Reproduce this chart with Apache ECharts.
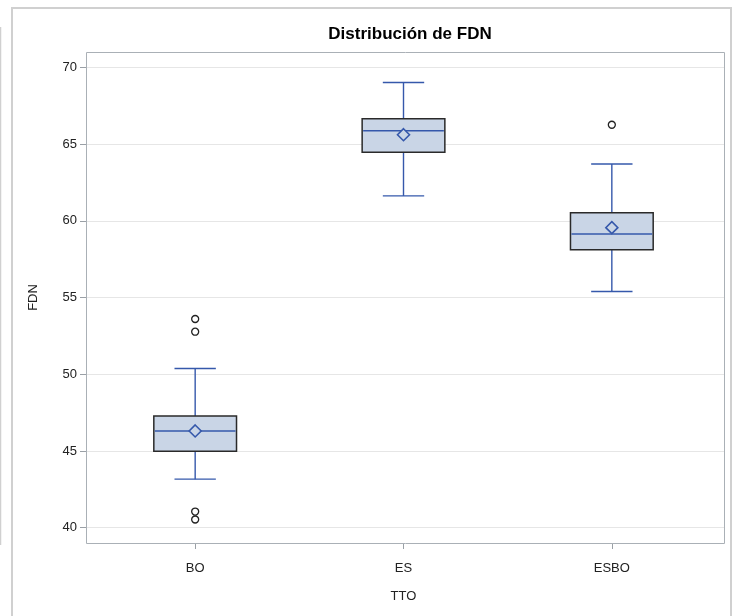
<!DOCTYPE html>
<html>
<head>
<meta charset="utf-8">
<script src="https://cdn.jsdelivr.net/npm/echarts@6/dist/echarts.min.js"></script>
<style>
  html, body { margin: 0; padding: 0; background: #fff; }
  #chart { width: 738px; height: 616px; }
</style>
</head>
<body>
<div id="chart"></div>
<script>
// Treatment groups and five-number summaries of FDN per group
const categories = ['BO', 'ES', 'ESBO'];
const lowWhisker = [43.16, 61.62, 55.39];
const q1 = [44.98, 64.46, 58.12];
const median = [46.30, 65.87, 59.14];
const q3 = [47.27, 66.65, 60.52];
const highWhisker = [50.37, 69.01, 63.70];
const means = [46.30, 65.61, 59.55];
// Outlying observations: [group, value]
const outliers = [['BO', 53.60], ['BO', 52.77], ['BO', 41.05], ['BO', 40.53], ['ESBO', 66.26]];
const yTicks = [40, 45, 50, 55, 60, 65, 70];
const yMin = 39, yMax = 71;

const BLUE = '#3558ab';
const BOX_FILL = '#c9d5e6';
const FONT = 'Liberation Sans, Arial, sans-serif';

// plot frame in pixels
const frame = { left: 86, top: 52, right: 724, bottom: 543 };
const W = 738, H = 616;
// boxes are placed in a slightly inset band inside the frame
const inner = { left: 91, right: 716 };

const boxData = categories.map((c, i) => [i, lowWhisker[i], q1[i], median[i], q3[i], highWhisker[i]]);

function renderBox(params, api) {
  const idx = api.value(0);
  const band = api.size([1, 0])[0];
  const bw = band * 0.397;
  const cw = bw * 0.5;
  const x = api.coord([idx, api.value(3)])[0];
  const yLow = api.coord([idx, api.value(1)])[1];
  const yQ1 = api.coord([idx, api.value(2)])[1];
  const yMed = api.coord([idx, api.value(3)])[1];
  const yQ3 = api.coord([idx, api.value(4)])[1];
  const yHigh = api.coord([idx, api.value(5)])[1];
  const line = (x1, y1, x2, y2) => ({
    type: 'line', shape: { x1, y1, x2, y2 },
    style: { stroke: BLUE, lineWidth: 1.4 }
  });
  return {
    type: 'group',
    children: [
      line(x, yQ3, x, yHigh),
      line(x, yQ1, x, yLow),
      line(x - cw / 2, yHigh, x + cw / 2, yHigh),
      line(x - cw / 2, yLow, x + cw / 2, yLow),
      {
        type: 'rect',
        shape: { x: x - bw / 2, y: yQ3, width: bw, height: yQ1 - yQ3 },
        style: { fill: BOX_FILL, stroke: '#2a2a2a', lineWidth: 1.5 }
      },
      line(x - bw / 2 + 1, yMed, x + bw / 2 - 1, yMed)
    ]
  };
}

const chart = echarts.init(document.getElementById('chart'), null, { renderer: 'canvas' });

chart.setOption({
  backgroundColor: '#fff',
  animation: false,
  title: {
    text: 'Distribución de FDN',
    left: (frame.left + frame.right) / 2,
    textAlign: 'center',
    top: 21,
    textStyle: { fontFamily: FONT, fontWeight: 'bold', fontSize: 17, color: '#000' }
  },
  grid: [
    { left: frame.left, top: frame.top, width: frame.right - frame.left, height: frame.bottom - frame.top, containLabel: false },
    { left: inner.left, top: frame.top, width: inner.right - inner.left, height: frame.bottom - frame.top, containLabel: false }
  ],
  xAxis: [
    { gridIndex: 0, type: 'value', show: false, min: 0, max: 1 },
    {
      gridIndex: 1, type: 'category', data: categories, boundaryGap: true,
      axisLine: { show: false },
      axisTick: { show: true, alignWithLabel: true, length: 6, lineStyle: { color: '#9aa0a6' } },
      axisLabel: { margin: 19, fontFamily: FONT, fontSize: 13, color: '#222' },
      splitLine: { show: false },
      name: 'TTO', nameLocation: 'middle', nameGap: 47,
      nameTextStyle: { fontFamily: FONT, fontSize: 13, color: '#222' }
    }
  ],
  yAxis: [
    {
      gridIndex: 0, type: 'value', min: yMin, max: yMax,
      axisLine: { show: false },
      axisTick: { show: true, length: 6, customValues: yTicks, lineStyle: { color: '#9aa0a6' } },
      axisLabel: { customValues: yTicks, margin: 9, fontFamily: FONT, fontSize: 13, color: '#222' },
      splitLine: { show: true, lineStyle: { color: '#e6e6e6', width: 1 } },
      name: 'FDN', nameLocation: 'middle', nameGap: 46,
      nameTextStyle: { fontFamily: FONT, fontSize: 13, color: '#222' }
    },
    { gridIndex: 1, type: 'value', min: yMin, max: yMax, show: false, splitLine: { show: false } }
  ],
  graphic: [
    // plot frame
    { type: 'rect', z: 100, silent: true,
      shape: { x: frame.left + 0.5, y: frame.top + 0.5, width: frame.right - frame.left, height: frame.bottom - frame.top },
      style: { fill: 'none', stroke: '#aab0b6', lineWidth: 1 } },
    // outer panel borders
    { type: 'polyline', z: 100, silent: true,
      shape: { points: [[12, H], [12, 8], [731, 8], [731, H]] },
      style: { fill: 'none', stroke: '#d0d0d0', lineWidth: 2 } },
    { type: 'line', z: 100, silent: true,
      shape: { x1: 0.5, y1: 27, x2: 0.5, y2: 545 },
      style: { stroke: '#d0d0d0', lineWidth: 1.5 } }
  ],
  series: [
    {
      type: 'custom', xAxisIndex: 1, yAxisIndex: 1,
      renderItem: renderBox, data: boxData,
      encode: { x: 0, y: [1, 2, 3, 4, 5] }, z: 3
    },
    {
      type: 'scatter', xAxisIndex: 1, yAxisIndex: 1, z: 5,
      symbol: 'diamond', symbolSize: [12, 12],
      itemStyle: { color: BOX_FILL, borderColor: BLUE, borderWidth: 1.6, opacity: 1 },
      data: categories.map((c, i) => [c, means[i]])
    },
    {
      type: 'scatter', xAxisIndex: 1, yAxisIndex: 1, z: 5,
      symbol: 'circle', symbolSize: 7,
      itemStyle: { color: 'rgba(255,255,255,0)', borderColor: '#222', borderWidth: 1.3, opacity: 1 },
      data: outliers
    }
  ]
});
</script>
</body>
</html>
